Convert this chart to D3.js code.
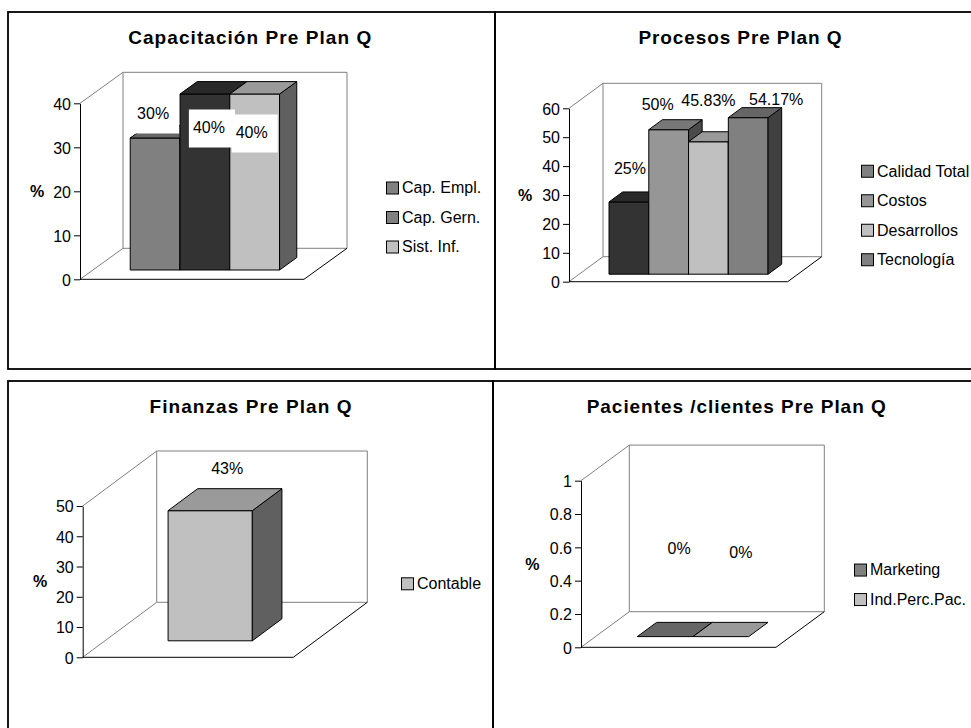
<!DOCTYPE html>
<html>
<head>
<meta charset="utf-8">
<script src="https://cdn.jsdelivr.net/npm/d3@7"></script>
<style>
  html, body { margin: 0; padding: 0; background: #fff; }
  svg { display: block; }
</style>
</head>
<body>
<svg id="chart" width="971" height="728"></svg>
<script>
// ---- data -------------------------------------------------------------
const capSeries = ["Cap. Empl.", "Cap. Gern.", "Sist. Inf."];
const capValues = [30, 40, 40];
const capTicks  = [0, 10, 20, 30, 40];

const procSeries = ["Calidad Total", "Costos", "Desarrollos", "Tecnología"];
const procValues = [25, 50, 45.83, 54.17];
const procTicks  = [0, 10, 20, 30, 40, 50, 60];

const finSeries = ["Contable"];
const finValues = [43];
const finTicks  = [0, 10, 20, 30, 40, 50];

const pacSeries = ["Marketing", "Ind.Perc.Pac."];
const pacValues = [0, 0];
const pacTicks  = [0, 0.2, 0.4, 0.6, 0.8, 1];

// ---- drawing ----------------------------------------------------------
const FONT = "'Liberation Sans', Arial, Helvetica, sans-serif";
const svg = d3.select("#chart");

// panel frames
const frames = [
  [8, 12, 487, 357], [495, 12, 490, 357],
  [8, 381, 485, 360], [493, 381, 490, 360]
];
svg.selectAll("rect.frame").data(frames).join("rect")
  .attr("class", "frame")
  .attr("x", d => d[0]).attr("y", d => d[1])
  .attr("width", d => d[2]).attr("height", d => d[3])
  .attr("fill", "none").attr("stroke", "#000").attr("stroke-width", 1.8);

function shade(c, k) {
  const r = d3.rgb(c);
  return d3.rgb(r.r * k, r.g * k, r.b * k).formatHex();
}

function drawChart(cfg) {
  const g = svg.append("g");
  const y = d3.scaleLinear().domain([0, cfg.yMax]).range([cfg.y0, cfg.yTop]);
  const x = d3.scaleBand().domain(cfg.series)
    .range([cfg.x0, cfg.x0 + cfg.floorW]).paddingInner(0).paddingOuter(0.75);
  // projected point: horizontal position, value, depth fraction (0 front .. 1 back)
  const P = (px, v, d) => [px + d * cfg.DX, y(v) - d * cfg.DY];
  const poly = pts => "M" + pts.map(p => p.join(",")).join("L") + "Z";
  const line = (a, b, col) => g.append("path")
    .attr("d", "M" + a.join(",") + "L" + b.join(","))
    .attr("stroke", col).attr("stroke-width", 1).attr("fill", "none");

  const xL = cfg.x0, xR = cfg.x0 + cfg.floorW, top = cfg.yMax;

  // title
  g.append("text")
    .attr("x", cfg.titleX).attr("y", cfg.titleY)
    .attr("text-anchor", "middle")
    .attr("font-family", FONT).attr("font-size", 19).attr("font-weight", "bold")
    .attr("textLength", cfg.titleW).attr("lengthAdjust", "spacing")
    .text(cfg.title);

  // back wall, side wall and floor
  g.append("path")
    .attr("d", poly([P(xL, top, 1), P(xR, top, 1), P(xR, 0, 1), P(xL, 0, 1)]))
    .attr("fill", "#fff").attr("stroke", "#808080").attr("stroke-width", 1);
  line(P(xL, top, 0), P(xL, top, 1), "#808080");
  line(P(xL, 0, 0), P(xL, 0, 1), "#808080");
  line(P(xR, 0, 0), P(xR, 0, 1), "#000");
  line(P(xL, 0, 0), P(xR, 0, 0), "#000");

  // value axis
  const axis = d3.axisLeft(y).tickValues(cfg.ticks).tickSize(6).tickSizeOuter(0)
    .tickPadding(3).tickFormat(d3.format("~g"));
  const ag = g.append("g").attr("transform", `translate(${xL},0)`).call(axis);
  ag.attr("font-family", FONT).attr("font-size", 16);
  ag.selectAll("path.domain, line").attr("stroke", "#000");
  ag.selectAll("text").attr("fill", "#000").attr("dy", "0.36em");

  // axis title
  g.append("text")
    .attr("x", cfg.pctX).attr("y", (cfg.y0 + cfg.yTop) / 2)
    .attr("dy", "0.36em").attr("text-anchor", "middle")
    .attr("font-family", FONT).attr("font-size", 16).attr("font-weight", "bold")
    .text("%");

  // columns, drawn left to right so later ones overlap the earlier side faces
  const d0 = 0.3, d1 = 0.7;
  cfg.series.forEach((s, i) => {
    const v = cfg.values[i], c = cfg.colors[i];
    const a = x(s), b = x(s) + x.bandwidth();
    const bg = g.append("g").attr("stroke", "#000").attr("stroke-width", 1)
      .attr("stroke-linejoin", "round");
    if (v > 0) {
      bg.append("path").attr("fill", c)
        .attr("d", poly([P(a, v, d0), P(b, v, d0), P(b, 0, d0), P(a, 0, d0)]));
      bg.append("path").attr("fill", shade(c, 0.5))
        .attr("d", poly([P(b, v, d0), P(b, v, d1), P(b, 0, d1), P(b, 0, d0)]));
    }
    bg.append("path").attr("fill", shade(c, 0.8))
      .attr("d", poly([P(a, v, d0), P(b, v, d0), P(b, v, d1), P(a, v, d1)]));
  });

  // data labels
  cfg.series.forEach((s, i) => {
    const v = cfg.values[i];
    const cx = x(s) + x.bandwidth() / 2 + d0 * cfg.DX + cfg.labelOff[i][0];
    const cy = y(v) - d0 * cfg.DY + cfg.labelOff[i][1];
    const t = g.append("text")
      .attr("x", cx).attr("y", cy).attr("dy", "0.36em")
      .attr("text-anchor", "middle")
      .attr("font-family", FONT).attr("font-size", 16)
      .text(v + "%");
    if (cfg.labelBoxes) {
      const bb = t.node().getBBox();
      g.insert("rect", () => t.node())
        .attr("x", bb.x - 4).attr("y", cy - 17.5)
        .attr("width", bb.width + 14).attr("height", 38)
        .attr("fill", "#fff");
    }
  });

  // legend
  const n = cfg.series.length, gap = 29.5;
  const lg = g.append("g");
  cfg.series.forEach((s, i) => {
    const cy = cfg.legY + (i - (n - 1) / 2) * gap;
    lg.append("rect")
      .attr("x", cfg.legX + 0.5).attr("y", cy - 6 + 0.5)
      .attr("width", 12).attr("height", 12)
      .attr("fill", cfg.legColors[i]).attr("stroke", "#000").attr("stroke-width", 1);
    lg.append("text")
      .attr("x", cfg.legX + 16).attr("y", cy).attr("dy", "0.36em")
      .attr("font-family", FONT).attr("font-size", 16)
      .text(s);
  });
}

drawChart({
  title: "Capacitación Pre Plan Q", titleX: 249.7, titleY: 43.5, titleW: 243,
  series: capSeries, values: capValues, ticks: capTicks, yMax: 40,
  x0: 80, y0: 279.3, yTop: 103.3, floorW: 224, DX: 43, DY: 31, pctX: 37,
  colors: ["#808080", "#333333", "#c0c0c0"],
  legColors: ["#808080", "#808080", "#c0c0c0"],
  legX: 386, legY: 217,
  labelOff: [[-2, -25], [4, 33], [-3, 38]],
  labelBoxes: true
});

drawChart({
  title: "Procesos Pre Plan Q", titleX: 740, titleY: 43.5, titleW: 203,
  series: procSeries, values: procValues, ticks: procTicks, yMax: 60,
  x0: 569, y0: 281.7, yTop: 108.3, floorW: 218.7, DX: 34, DY: 25, pctX: 525,
  colors: ["#333333", "#969696", "#c0c0c0", "#808080"],
  legColors: ["#808080", "#969696", "#c0c0c0", "#808080"],
  legX: 861, legY: 215,
  labelOff: [[1, -34], [-11, -25], [0, -42], [28, -18]],
  labelBoxes: false
});

drawChart({
  title: "Finanzas Pre Plan Q", titleX: 250.5, titleY: 413.3, titleW: 202,
  series: finSeries, values: finValues, ticks: finTicks, yMax: 50,
  x0: 82.7, y0: 657.3, yTop: 506, floorW: 210.6, DX: 74, DY: 55, pctX: 40,
  colors: ["#c0c0c0"],
  legColors: ["#c0c0c0"],
  legX: 401, legY: 583.3,
  labelOff: [[17, -42]],
  labelBoxes: false
});

drawChart({
  title: "Pacientes /clientes Pre Plan Q", titleX: 736.2, titleY: 413.3, titleW: 299,
  series: pacSeries, values: pacValues, ticks: pacTicks, yMax: 1,
  x0: 581, y0: 647.3, yTop: 480.7, floorW: 195, DX: 48.3, DY: 35.6, pctX: 532.3,
  colors: ["#808080", "#c0c0c0"],
  legColors: ["#808080", "#c0c0c0"],
  legX: 854, legY: 584.3,
  labelOff: [[14, -88], [20, -84]],
  labelBoxes: false
});
</script>
</body>
</html>
